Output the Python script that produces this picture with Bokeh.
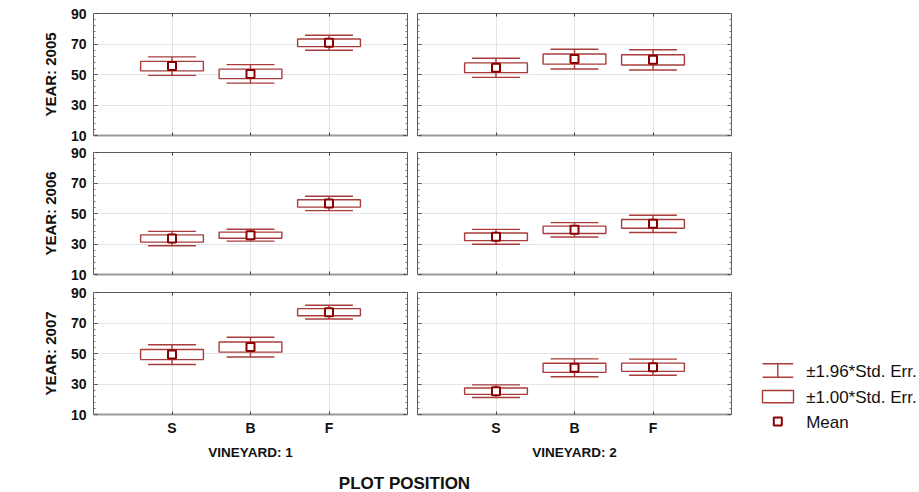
import math

from bokeh.core.properties import value
from bokeh.embed import file_html
from bokeh.layouts import column, row
from bokeh.models import ColumnDataSource, FixedTicker, Grid, Label, LinearAxis, Range1d
from bokeh.plotting import figure
from bokeh.resources import INLINE

# ---- data -----------------------------------------------------------------
positions = ["S", "B", "F"]
years = ["2005", "2006", "2007"]
vineyards = ["1", "2"]

mean_2005_v1 = [55.5, 50.4, 70.8]
se_2005_v1 = [3.1, 3.1, 2.5]
mean_2005_v2 = [54.4, 60.1, 59.6]
se_2005_v2 = [3.2, 3.3, 3.4]

mean_2006_v1 = [33.6, 35.8, 56.6]
se_2006_v1 = [2.4, 2.0, 2.4]
mean_2006_v2 = [34.7, 39.3, 43.2]
se_2006_v2 = [2.5, 2.4, 2.9]

mean_2007_v1 = [49.3, 54.2, 77.1]
se_2007_v1 = [3.3, 3.3, 2.3]
mean_2007_v2 = [25.3, 40.6, 41.0]
se_2007_v2 = [2.1, 3.0, 2.7]

y_ticks = [10, 30, 50, 70, 90]
y_minor_ticks = list(range(10, 91, 4))

legend_labels = ["\u00b11.96*Std. Err.", "\u00b11.00*Std. Err.", "Mean"]

panel_data = {
    ("2005", "1"): (mean_2005_v1, se_2005_v1),
    ("2005", "2"): (mean_2005_v2, se_2005_v2),
    ("2006", "1"): (mean_2006_v1, se_2006_v1),
    ("2006", "2"): (mean_2006_v2, se_2006_v2),
    ("2007", "1"): (mean_2007_v1, se_2007_v1),
    ("2007", "2"): (mean_2007_v2, se_2007_v2),
}

# ---- style ----------------------------------------------------------------
FONT = "Liberation Sans"
LINE = "#a83c3c"
MEAN = "#8b0000"
FRAME = "#5c5c5c"
GRID = "#c8c8c8"
TEXT = "#111111"

BOX_HALF = 0.4
CAP_HALF = 0.305

LEFT_W, RIGHT_W = 412, 324
ROW_H = [143, 140, 189]
ROW_BORDERS = [(13, 8), (9, 9), (9, 58)]


def drop_default_grids(p):
    p.center = [r for r in p.center if not isinstance(r, Grid)]


def style_axis(ax, show_labels, font_size="14px"):
    ax.axis_line_color = None
    ax.major_tick_in = 4
    ax.major_tick_out = 0
    ax.minor_tick_in = 2
    ax.minor_tick_out = 0
    ax.major_tick_line_color = "#404040"
    ax.minor_tick_line_color = "#707070"
    if show_labels:
        ax.major_label_text_font = FONT
        ax.major_label_text_font_style = "bold"
        ax.major_label_text_font_size = font_size
        ax.major_label_text_color = TEXT
        ax.major_label_standoff = 7
    else:
        # tick marks only, no labels
        ax.major_label_text_color = None
        ax.major_label_text_font_size = "1px"
        ax.major_label_standoff = 0


def make_panel(year, vineyard, col, row_idx):
    means, ses = panel_data[(year, vineyard)]
    top_b, bottom_b = ROW_BORDERS[row_idx]
    is_left = col == 0
    is_bottom = row_idx == len(years) - 1

    p = figure(
        width=LEFT_W if is_left else RIGHT_W,
        height=ROW_H[row_idx],
        x_range=Range1d(0, len(positions) + 1),
        y_range=Range1d(10, 90),
        x_axis_location=None,
        y_axis_location=None,
        toolbar_location=None,
        output_backend="svg",
        min_border_left=93 if is_left else 5,
        min_border_right=5,
        min_border_top=top_b,
        min_border_bottom=bottom_b,
    )
    drop_default_grids(p)
    p.outline_line_color = FRAME
    p.outline_line_width = 1
    p.background_fill_color = "white"
    p.border_fill_color = "white"

    xs = [i + 1 for i in range(len(positions))]
    x_ticker = FixedTicker(ticks=xs, minor_ticks=[])
    y_ticker = FixedTicker(ticks=y_ticks, minor_ticks=y_minor_ticks)

    # y axes on both sides, ticks pointing inwards
    left = LinearAxis(ticker=y_ticker)
    style_axis(left, is_left)
    if is_left:
        left.axis_label = f"YEAR: {year}"
        left.axis_label_text_font = FONT
        left.axis_label_text_font_style = "bold"
        left.axis_label_text_font_size = "15px"
        left.axis_label_text_color = TEXT
        left.axis_label_standoff = 9
    p.add_layout(left, "left")

    right = LinearAxis(ticker=y_ticker)
    style_axis(right, False)
    p.add_layout(right, "right")

    # category axes above and below
    below = LinearAxis(ticker=x_ticker, major_label_overrides=dict(zip(xs, positions)))
    style_axis(below, is_bottom)
    below.major_tick_in = 3
    below.axis_line_color = "#9a9a9a"
    below.axis_line_width = 2
    if is_bottom:
        below.major_label_standoff = 5
        below.axis_label = f"VINEYARD: {vineyard}"
        below.axis_label_text_font = FONT
        below.axis_label_text_font_style = "bold"
        below.axis_label_text_font_size = "13.5px"
        below.axis_label_text_color = TEXT
        below.axis_label_standoff = 6
    p.add_layout(below, "below")

    above = LinearAxis(ticker=x_ticker)
    style_axis(above, False)
    above.major_tick_in = 3
    p.add_layout(above, "above")

    # dotted grid at the major ticks only
    p.add_layout(Grid(dimension=0, ticker=x_ticker, grid_line_color=GRID, grid_line_dash="1 1"))
    p.add_layout(Grid(dimension=1, ticker=y_ticker, grid_line_color=GRID, grid_line_dash="1 1"))

    src = ColumnDataSource(dict(
        x=xs,
        mean=means,
        box_lo=[m - s for m, s in zip(means, ses)],
        box_hi=[m + s for m, s in zip(means, ses)],
        ci_lo=[m - 1.96 * s for m, s in zip(means, ses)],
        ci_hi=[m + 1.96 * s for m, s in zip(means, ses)],
        cap_l=[x - CAP_HALF for x in xs],
        cap_r=[x + CAP_HALF for x in xs],
    ))

    # +-1.96 SE whiskers with caps
    p.segment(x0="x", y0="box_hi", x1="x", y1="ci_hi", source=src, line_color=LINE, line_width=1.4)
    p.segment(x0="x", y0="box_lo", x1="x", y1="ci_lo", source=src, line_color=LINE, line_width=1.4)
    p.segment(x0="cap_l", y0="ci_hi", x1="cap_r", y1="ci_hi", source=src, line_color=LINE, line_width=1.4)
    p.segment(x0="cap_l", y0="ci_lo", x1="cap_r", y1="ci_lo", source=src, line_color=LINE, line_width=1.4)

    # +-1.00 SE boxes
    p.vbar(x="x", width=2 * BOX_HALF, bottom="box_lo", top="box_hi", source=src,
           fill_color="white", line_color=LINE, line_width=1.4)

    # means
    p.scatter(x="x", y="mean", source=src, marker="square", size=8,
              fill_color="white", line_color=MEAN, line_width=2)
    return p


grid_rows = []
for r, year in enumerate(years):
    grid_rows.append([make_panel(year, v, c, r) for c, v in enumerate(vineyards)])

# shared y title, placed in the left border of the middle-left panel
grid_rows[1][0].add_layout(Label(
    x=-72, y=60, x_units="screen", y_units="screen", text="TSW (mm)",
    angle=math.pi / 2, text_align="center", text_baseline="middle",
    text_font=FONT, text_font_style="bold", text_font_size="18px", text_color=TEXT,
))

# legend block to the right of the bottom row
leg = figure(
    width=183, height=ROW_H[2], x_range=Range1d(0, 183), y_range=Range1d(ROW_H[2], 0),
    x_axis_location=None, y_axis_location=None, toolbar_location=None,
    output_backend="svg", min_border=0,
)
drop_default_grids(leg)
leg.frame_align = False
leg.outline_line_color = None
leg.segment(x0=[26, 26, 41.3], y0=[80.3, 93.7, 80.3], x1=[56.7, 56.7, 41.3], y1=[80.3, 93.7, 93.7],
            line_color=LINE, line_width=1.4)
leg.quad(left=[26], right=[57], top=[107], bottom=[119.3], fill_color="white",
         line_color=LINE, line_width=1.4)
leg.scatter(x=[41.3], y=[138], marker="square", size=8, fill_color="white",
            line_color=MEAN, line_width=2)
leg.text(x=[69.7, 69.7, 69.7], y=[87.7, 113.7, 138.7], text=legend_labels,
         text_font=value(FONT), text_font_size="17px", text_baseline="middle",
         text_align="left", text_color=TEXT)

# x title strip across the full width
strip = figure(
    width=919, height=20, x_range=Range1d(0, 919), y_range=Range1d(0, 20),
    x_axis_location=None, y_axis_location=None, toolbar_location=None,
    output_backend="svg", min_border=0,
)
drop_default_grids(strip)
strip.frame_align = False
strip.outline_line_color = None
strip.add_layout(Label(
    x=404, y=9.5, x_units="screen", y_units="screen", text="PLOT POSITION",
    text_align="center", text_baseline="middle", text_font=FONT,
    text_font_style="bold", text_font_size="17px", text_color=TEXT,
))

layout = column(
    row(grid_rows[0][0], grid_rows[0][1]),
    row(grid_rows[1][0], grid_rows[1][1]),
    row(grid_rows[2][0], grid_rows[2][1], leg),
    strip,
)

open("out.html", "w").write(file_html(layout, INLINE))
